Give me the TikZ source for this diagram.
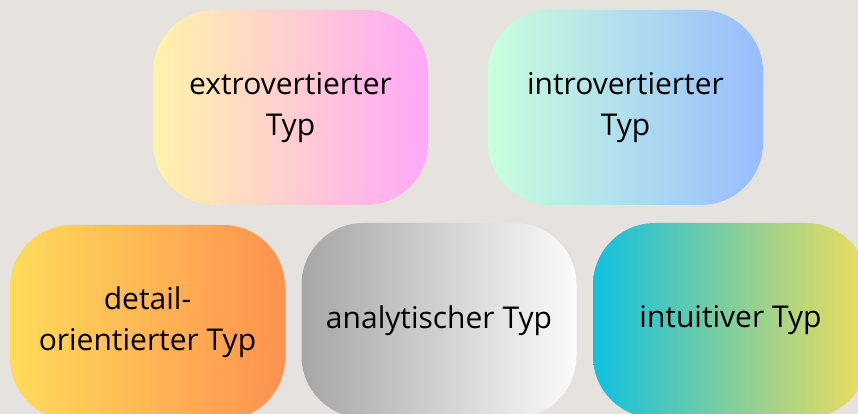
\documentclass[tikz,border=0pt]{standalone}
\usepackage{fontspec}
\setmainfont{Open Sans}
\usetikzlibrary{positioning}
\definecolor{canvas}{HTML}{E6E2DE}
\definecolor{extroL}{HTML}{FFF3AA}
\definecolor{extroR}{HTML}{FFA8F8}
\definecolor{introL}{HTML}{C8FFDC}
\definecolor{introR}{HTML}{98BCFF}
\definecolor{detailL}{HTML}{FFDB5A}
\definecolor{detailR}{HTML}{FF9150}
\definecolor{analytL}{HTML}{A6A6A6}
\definecolor{analytR}{HTML}{FBFBFB}
\definecolor{intuitL}{HTML}{10C0E0}
\definecolor{intuitR}{HTML}{F2DC5A}
\tikzset{
  typbox/.style 2 args={
    rectangle, rounded corners=62pt, minimum width=275pt, minimum height=195pt,
    inner sep=0pt, align=center, font=\fontsize{30}{41}\selectfont,
    left color=#1, right color=#2, draw=none, text=black
  }
}

\begin{document}
\begin{tikzpicture}[x=1pt, y=1pt]
  % Canvas
  \useasboundingbox (0,0) rectangle (858,414);
  \fill[canvas] (0,0) rectangle (858,414);
  \clip (0,0) rectangle (858,414);

  % Top row
  \node[typbox={extroL}{extroR}] (extro) at (290.5,306.5) {extrovertierter\\Typ};
  \node[typbox={introL}{introR}] (intro) at (625.5,306.5) {introvertierter\\Typ};

  % Bottom row
  \node[typbox={detailL}{detailR}] (detail) at (147.5,91.5) {detail-\\orientierter Typ};
  \node[typbox={analytL}{analytR}] (analyt) at (439,93.5) {analytischer Typ};
  \node[typbox={intuitL}{intuitR}] (intuit) at (730.5,93.5) {intuitiver Typ};

\end{tikzpicture}
\end{document}
